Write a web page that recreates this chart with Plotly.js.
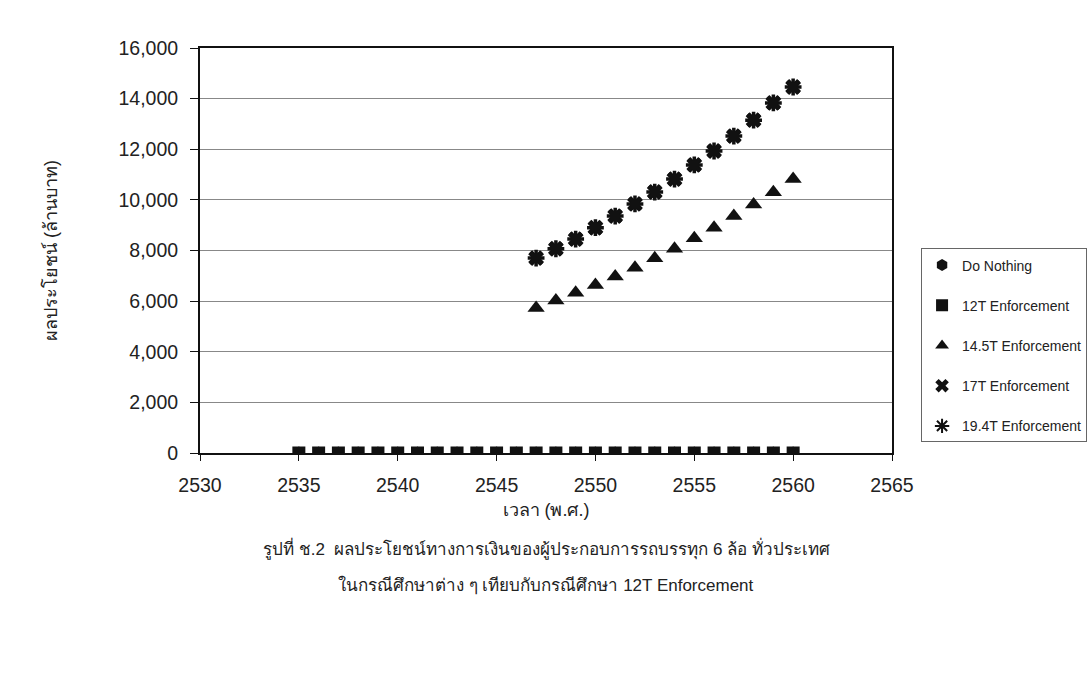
<!DOCTYPE html>
<html>
<head>
<meta charset="utf-8">
<script src="https://cdn.plot.ly/plotly-3.0.1.min.js"></script>
<style>html,body{margin:0;padding:0;background:#fff;}#chart{width:1091px;height:691px;}</style>
</head>
<body>
<div id="chart"></div>
<script>
// Years (Buddhist Era)
const yearsAll = [2535,2536,2537,2538,2539,2540,2541,2542,2543,2544,2545,2546,2547,2548,2549,2550,2551,2552,2553,2554,2555,2556,2557,2558,2559,2560];
const yearsLate = [2547,2548,2549,2550,2551,2552,2553,2554,2555,2556,2557,2558,2559,2560];

// Series values (million baht)
const doNothing = [0,0,0,0,0,0,0,0,0,0,0,0,0,0,0,0,0,0,0,0,0,0,0,0,0,0];
const t12 = [0,0,0,0,0,0,0,0,0,0,0,0,0,0,0,0,0,0,0,0,0,0,0,0,0,0];
const t145 = [5730,6020,6330,6640,6970,7320,7690,8070,8480,8900,9360,9820,10300,10820];
const t17 = [7700,8070,8450,8900,9360,9840,10310,10820,11380,11930,12520,13150,13830,14460];
const t194 = [7700,8070,8450,8900,9360,9840,10310,10820,11380,11930,12520,13150,13830,14460];

const seriesNames = ['Do Nothing','12T Enforcement','14.5T Enforcement','17T Enforcement','19.4T Enforcement'];

const thaiFont = '"Liberation Sans", "DejaVu Sans", sans-serif';

const traces = [
  {x: yearsAll, y: doNothing, name: seriesNames[0], type: 'scatter', mode: 'markers', legendgroup: 'a',
   marker: {symbol: 'hexagon', size: 13, color: '#111'}},
  {x: yearsAll, y: t12, name: seriesNames[1], type: 'scatter', mode: 'markers', legendgroup: 'b',
   marker: {symbol: 'square', size: 13, color: '#111'}},
  {x: yearsLate, y: t145, name: seriesNames[2], type: 'scatter', mode: 'markers', legendgroup: 'c',
   marker: {symbol: 'triangle-up', size: 15, color: '#111'}},
  {x: yearsLate, y: t17, name: seriesNames[3], type: 'scatter', mode: 'markers', legendgroup: 'd',
   marker: {symbol: 'x', size: 14, color: '#111'}},
  {x: yearsLate, y: t194, name: seriesNames[4], type: 'scatter', mode: 'markers', legendgroup: 'e',
   marker: {symbol: 'asterisk-open', size: 14, color: '#111', line: {color: '#111', width: 3.5}}}
];

const layout = {
  width: 1091, height: 691,
  paper_bgcolor: '#fff', plot_bgcolor: '#fff',
  margin: {l: 200, r: 199, t: 48, b: 238, autoexpand: false},
  font: {family: '"Liberation Sans", Arial, sans-serif', color: '#111'},
  showlegend: true,
  legend: {
    x: 1.042, xanchor: 'left', y: 0.505, yanchor: 'top',
    bordercolor: '#666', borderwidth: 1, bgcolor: '#fff',
    font: {size: 14, color: '#222'},
    tracegroupgap: 19,
    itemsizing: 'constant'
  },
  xaxis: {
    range: [2530, 2565], tick0: 2530, dtick: 5,
    showgrid: false, zeroline: false,
    showline: true, linecolor: '#111', linewidth: 2, mirror: true,
    ticks: 'outside', ticklen: 6, tickcolor: '#111', tickwidth: 1,
    tickfont: {size: 19.5, color: '#222'},
    ticklabelstandoff: 8,
    title: {text: 'เวลา (พ.ศ.)', font: {size: 18, family: thaiFont, color: '#222'}, standoff: 8}
  },
  yaxis: {
    range: [0, 16000], tick0: 0, dtick: 2000, tickformat: ',d',
    showgrid: true, gridcolor: '#888', gridwidth: 1,
    zeroline: false,
    showline: true, linecolor: '#111', linewidth: 2, mirror: true,
    ticks: 'outside', ticklen: 8, tickcolor: '#111', tickwidth: 1,
    tickfont: {size: 19.5, color: '#222'},
    ticklabelstandoff: 8,
    title: {text: 'ผลประโยชน์ (ล้านบาท)', font: {size: 18, family: thaiFont, color: '#222'}, standoff: 56}
  },
  annotations: [
    {xref: 'paper', yref: 'paper', x: 0.5, y: -0.235, xanchor: 'center', yanchor: 'middle', showarrow: false,
     text: 'รูปที่ ช.2  ผลประโยชน์ทางการเงินของผู้ประกอบการรถบรรทุก 6 ล้อ ทั่วประเทศ',
     font: {size: 17, family: thaiFont, color: '#222'}},
    {xref: 'paper', yref: 'paper', x: 0.5, y: -0.325, xanchor: 'center', yanchor: 'middle', showarrow: false,
     text: 'ในกรณีศึกษาต่าง ๆ เทียบกับกรณีศึกษา 12T Enforcement',
     font: {size: 17, family: thaiFont, color: '#222'}}
  ]
};

Plotly.newPlot('chart', traces, layout, {displayModeBar: false, staticPlot: true});
</script>
</body>
</html>
